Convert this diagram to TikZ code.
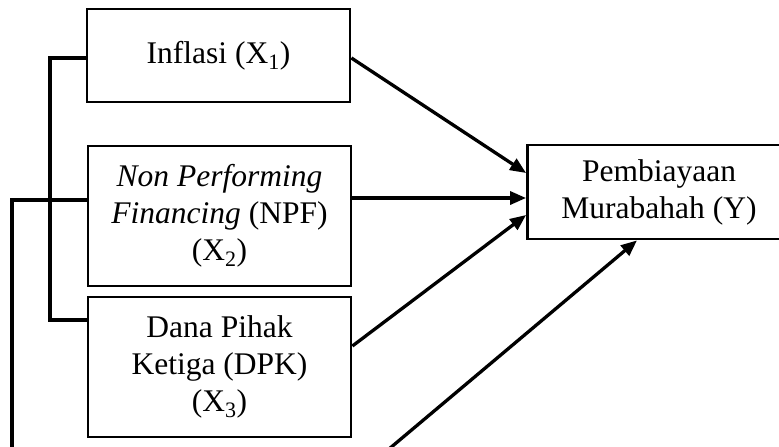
\documentclass[tikz,border=0pt]{standalone}
\usepackage{fontspec}
\setmainfont{Liberation Serif}
\usetikzlibrary{arrows.meta}
\tikzset{
  varbox/.style={draw, line width=2.8pt, minimum width=263pt, inner sep=0pt, align=center,
    font=\fontsize{31.5}{37}\selectfont},
  conn/.style={line width=3.3pt},
  arr/.style={conn, -{Triangle[length=16pt,width=13pt]}}
}
\begin{document}
\begin{tikzpicture}[x=1pt,y=-1pt]
\useasboundingbox (0,0) rectangle (779,447);
\clip (0,0) rectangle (779,447);
\node[varbox, minimum height=93pt] (x1) at (218.5,55.5) {Inflasi (X\textsubscript{1})};
\node[varbox, minimum height=140pt] (x2) at (219.5,216) {\textit{Non Performing}\\\textit{Financing} (NPF)\\(X\textsubscript{2})};
\node[varbox, minimum height=140pt] (x3) at (219.5,367) {Dana Pihak\\Ketiga (DPK)\\(X\textsubscript{3})};
\node[varbox, minimum height=94pt] (y) at (659,192) {Pembiayaan\\Murabahah (Y)};
\coordinate (k1) at (50,58);
\coordinate (k2) at (50,320);
\coordinate (o1) at (12,200);
\coordinate (o2) at (12,470);
\coordinate (b0) at (364,470);
\draw[conn] ([yshift=-2.5pt]x1.west) -- (k1) -- (k2) -- ([yshift=47pt]x3.west);
\draw[conn] ([yshift=16pt]x2.west) -- (o1) -- (o2);
\draw[arr] ([yshift=-2.5pt]x1.east) -- ([yshift=19pt]y.west);
\draw[arr] ([yshift=18pt]x2.east) -- ([yshift=-6pt]y.west);
\draw[arr] ([yshift=21pt]x3.east) -- ([yshift=-23pt]y.west);
\draw[arr] (b0) -- ([xshift=-22pt]y.south);
\end{tikzpicture}
\end{document}
